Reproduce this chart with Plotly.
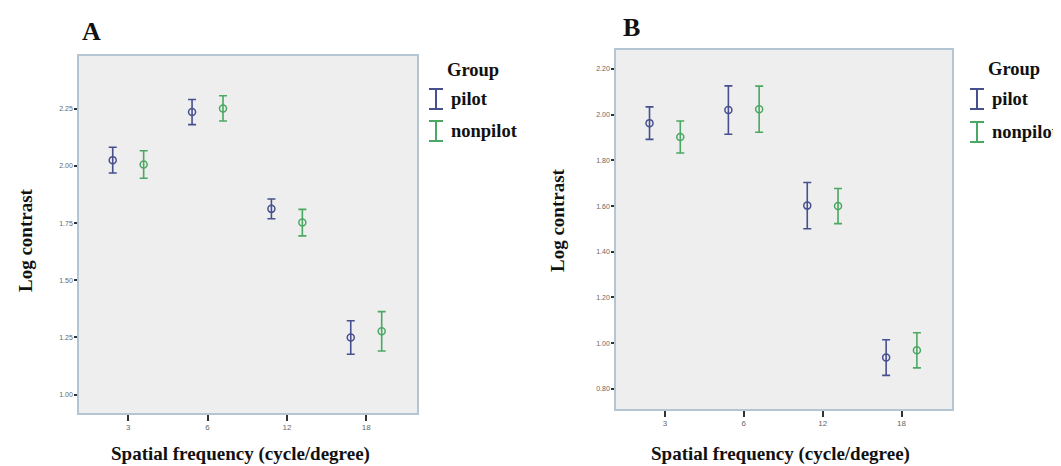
import plotly.graph_objects as go

# ---------------- data ----------------
freq_labels = ["3", "6", "12", "18"]

a_pilot_mean = [2.025, 2.235, 1.812, 1.250]
a_pilot_err = [0.056, 0.055, 0.043, 0.073]
a_nonpilot_mean = [2.006, 2.251, 1.752, 1.277]
a_nonpilot_err = [0.060, 0.055, 0.058, 0.086]

b_pilot_mean = [1.963, 2.020, 1.602, 0.937]
b_pilot_err = [0.071, 0.106, 0.101, 0.078]
b_nonpilot_mean = [1.902, 2.024, 1.600, 0.969]
b_nonpilot_err = [0.070, 0.101, 0.077, 0.077]

a_yticks = [1.00, 1.25, 1.50, 1.75, 2.00, 2.25]
b_yticks = [0.80, 1.00, 1.20, 1.40, 1.60, 1.80, 2.00, 2.20]

groups = ["pilot", "nonpilot"]

# ---------------- style ----------------
W, H = 1061, 466
PILOT = "#46508f"
NONPILOT = "#4aa862"
SERIF = "Liberation Serif, Times New Roman, serif"
BORDER = "#b4c6d4"
BG = "#eeeeee"

def px(x):
    return x / W

def py(y):
    return 1 - y / H

fig = go.Figure()

def add_panel(xa, ya, pm, pe, nm, ne):
    for name, mean, err, col in [("pilot", pm, pe, PILOT), ("nonpilot", nm, ne, NONPILOT)]:
        fig.add_trace(go.Scatter(
            x=freq_labels, y=mean, xaxis=xa, yaxis=ya, name=name,
            mode="markers", offsetgroup=name, alignmentgroup=xa,
            marker=dict(symbol="circle-open", size=7, color=col, line=dict(width=1.5, color=col)),
            error_y=dict(type="data", array=err, visible=True, color=col, thickness=1.6, width=4),
            showlegend=False,
        ))

add_panel("x", "y", a_pilot_mean, a_pilot_err, a_nonpilot_mean, a_nonpilot_err)
add_panel("x2", "y2", b_pilot_mean, b_pilot_err, b_nonpilot_mean, b_nonpilot_err)

common_x = dict(
    type="category", categoryorder="array", categoryarray=freq_labels,
    range=[-0.62, 3.64], showgrid=False, zeroline=False,
    showline=True, mirror=True, linecolor=BORDER, linewidth=1.5,
    ticks="outside", ticklen=6, tickwidth=1.5, tickcolor="#333333",
    tickfont=dict(family="Arial", size=8, color="#666666"),
)
common_y = dict(
    showgrid=False, zeroline=False,
    showline=True, mirror=True, linecolor=BORDER, linewidth=1.5,
    ticks="outside", ticklen=3, tickwidth=1.5, tickcolor="#333333",
    tickfont=dict(family="Arial", size=7, color="#666666"),
    tickformat=".2f",
)

fig.update_layout(
    width=W, height=H,
    margin=dict(l=0, r=0, t=0, b=0),
    paper_bgcolor="white", plot_bgcolor=BG,
    scattermode="group", scattergap=0.22,
    showlegend=False,
    xaxis=dict(domain=[px(71), px(409)], anchor="y", **common_x),
    yaxis=dict(domain=[py(405), py(48)], anchor="x", range=[0.92, 2.48], tickvals=a_yticks, **common_y),
    xaxis2=dict(domain=[px(608), px(944)], anchor="y2", **common_x),
    yaxis2=dict(domain=[py(401), py(42)], anchor="x2", range=[0.712, 2.283], tickvals=b_yticks, **common_y),
)

ann = []
def text(x, y, s, size, xanchor="center", angle=0):
    ann.append(dict(x=px(x), y=py(y), xref="paper", yref="paper", text="<b>%s</b>" % s,
                    showarrow=False, xanchor=xanchor, yanchor="middle", textangle=angle,
                    font=dict(family=SERIF, size=size, color="#111111")))

# panel letters
text(83, 23, "A", 26)
text(623, 19, "B", 26)
# axis titles
text(232, 446, "Spatial frequency (cycle/degree)", 19)
text(772, 446, "Spatial frequency (cycle/degree)", 19)
text(17, 232, "Log contrast", 19, angle=-90)
text(549, 212, "Log contrast", 19, angle=-90)

# legends (drawn manually, error-bar glyph)
shapes = []
def legend(xsym, xtext, xgroup, ygroup, yrows):
    text(xgroup, ygroup, "Group", 18.5)
    for name, yr, col in zip(groups, yrows, [PILOT, NONPILOT]):
        text(xtext, yr, name, 18.5, xanchor="left")
        h, w = 10, 7
        for (x0, y0, x1, y1) in [(xsym, yr - h, xsym, yr + h),
                                 (xsym - w, yr - h, xsym + w, yr - h),
                                 (xsym - w, yr + h, xsym + w, yr + h)]:
            shapes.append(dict(type="line", xref="paper", yref="paper",
                               x0=px(x0), y0=py(y0), x1=px(x1), y1=py(y1),
                               line=dict(color=col, width=2)))

legend(428, 441, 465, 62, [91, 123])
legend(969, 982, 1006, 61, [91, 124])

fig.update_layout(annotations=ann, shapes=shapes)
fig.write_html("out.html")
